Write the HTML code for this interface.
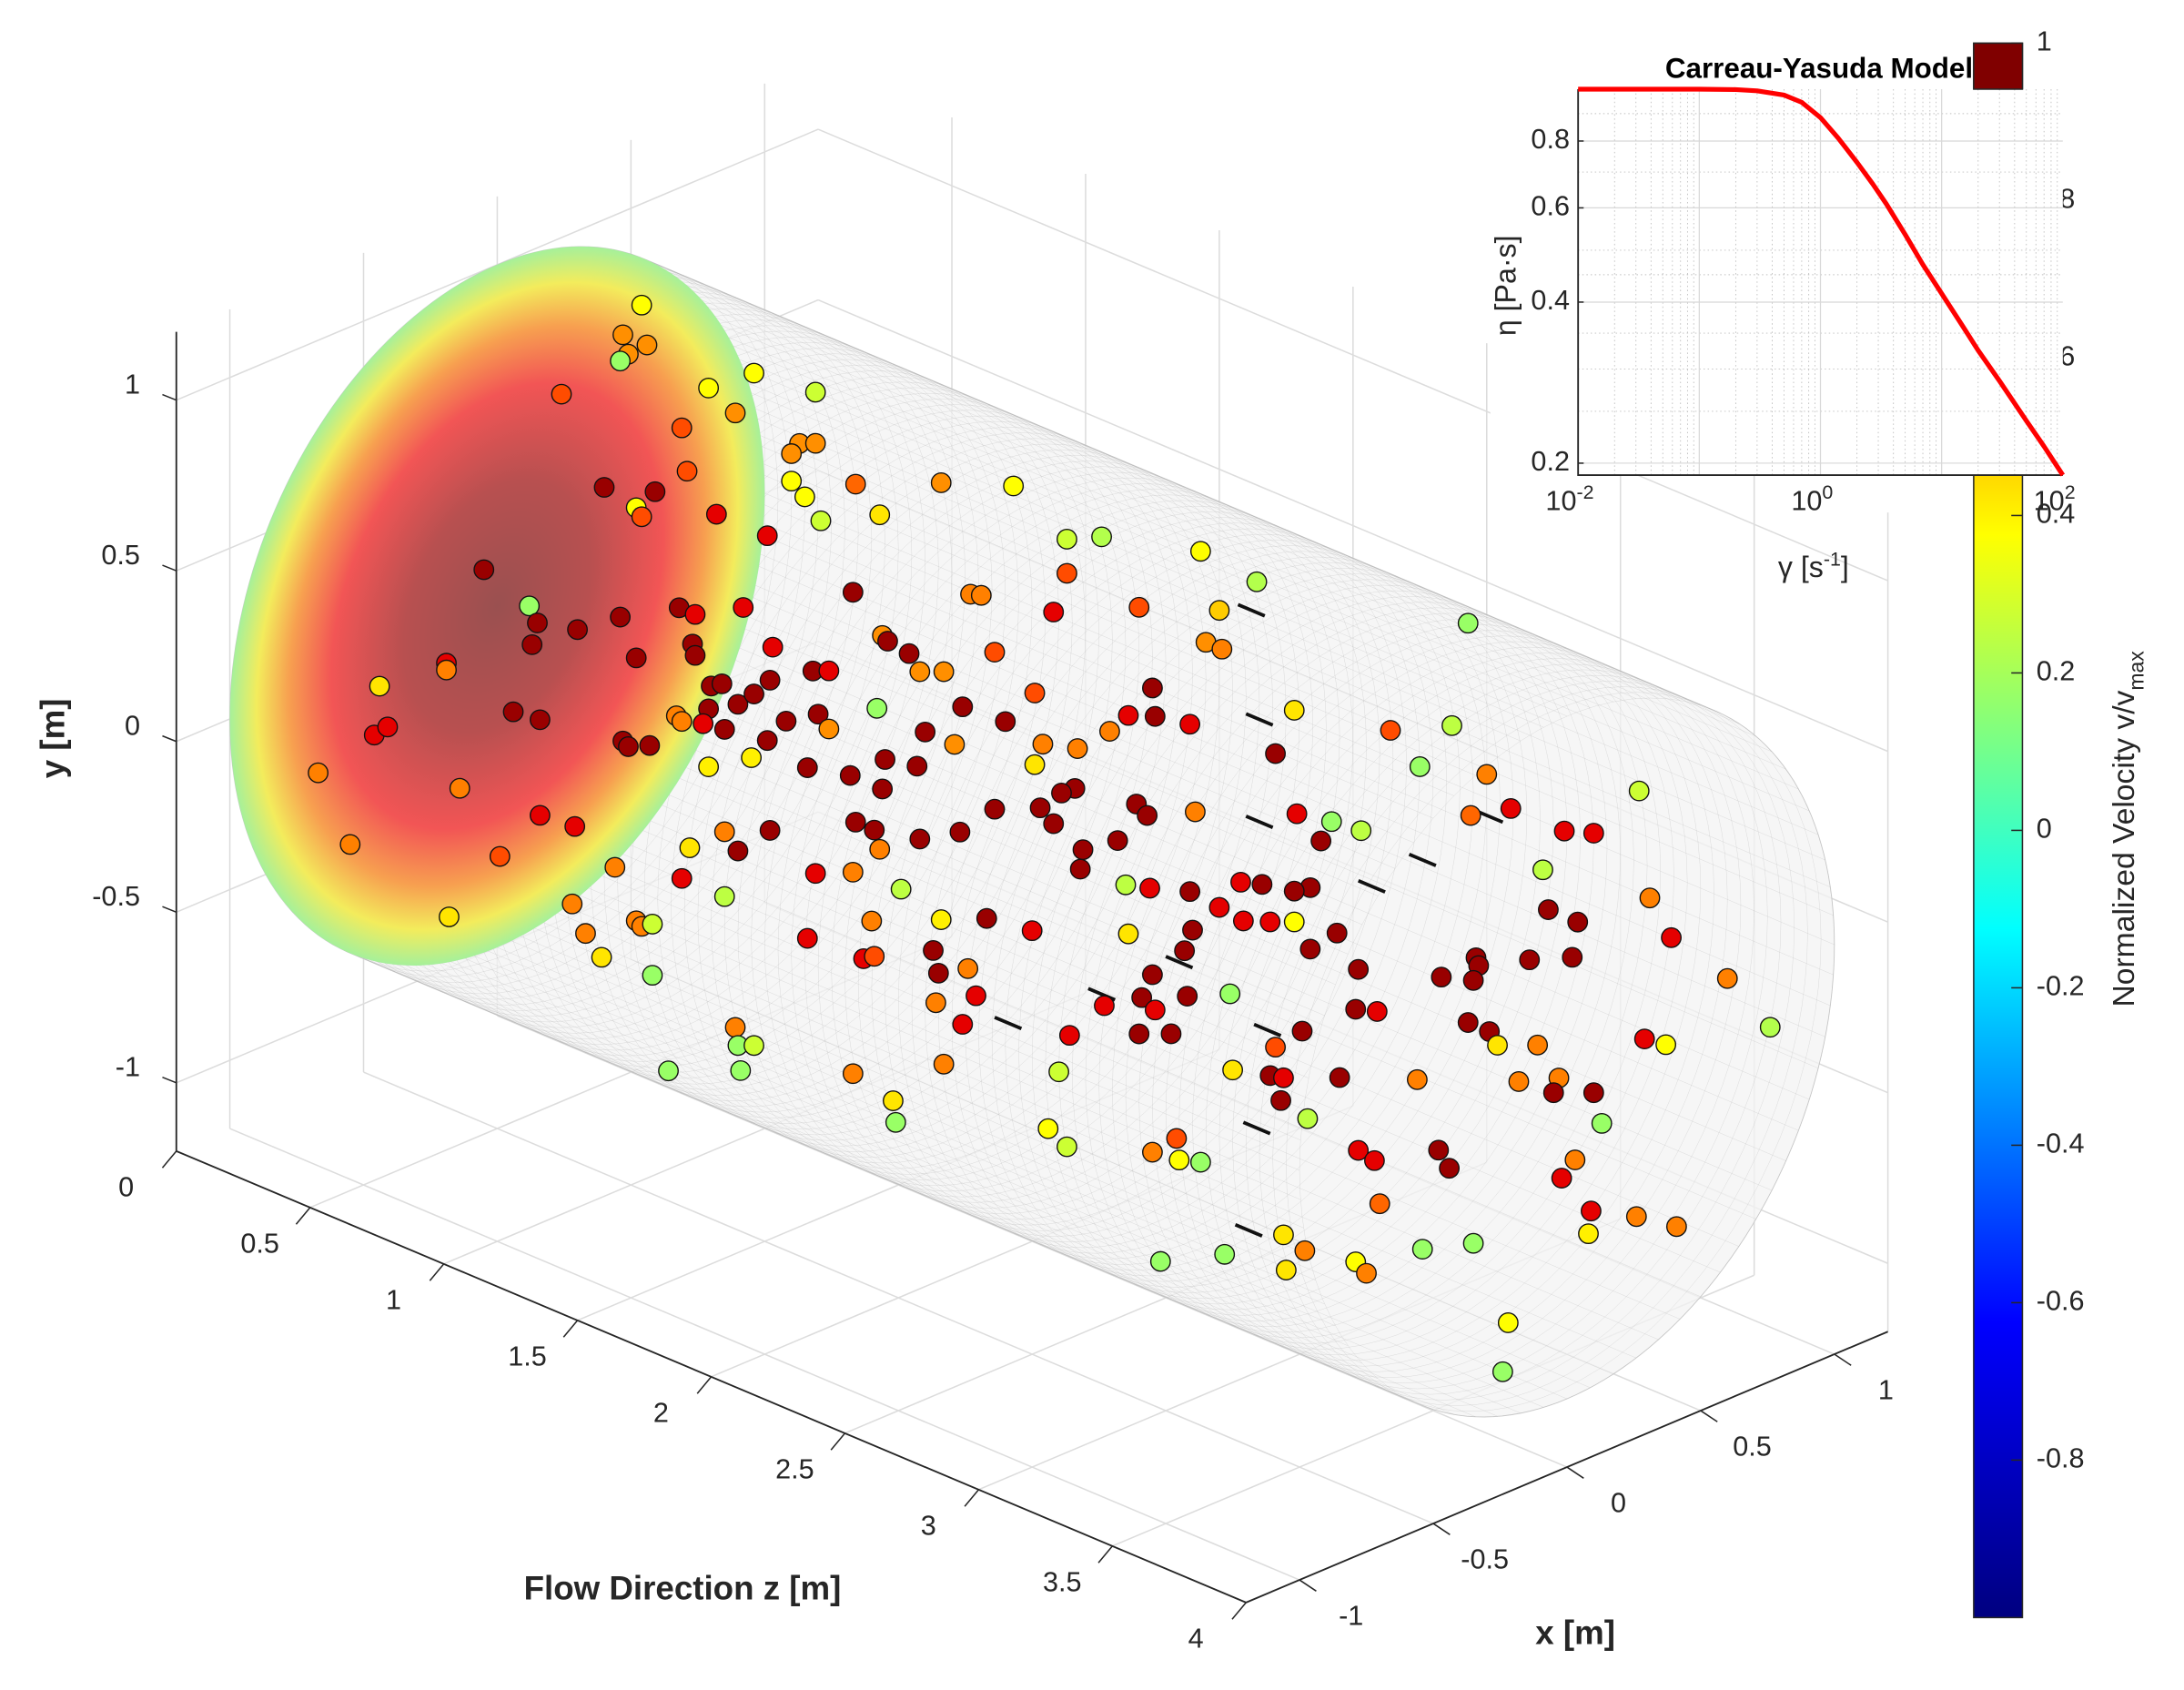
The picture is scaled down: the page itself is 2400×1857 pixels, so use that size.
<!DOCTYPE html>
<html><head><meta charset="utf-8"><style>
html,body{margin:0;padding:0;background:#fff}
svg{display:block}
text{font-family:"Liberation Sans",Arial,sans-serif}
</style></head><body>
<svg id="fig" width="2400" height="1857" viewBox="0 0 1568 1213" preserveAspectRatio="none" xmlns="http://www.w3.org/2000/svg">
<defs>
<radialGradient id="diskGrad" cx="0.5" cy="0.5" r="0.5">
<stop offset="0" stop-color="#9a5050"/>
<stop offset="0.35" stop-color="#b85050"/>
<stop offset="0.62" stop-color="#f25555"/>
<stop offset="0.78" stop-color="#f7a050"/>
<stop offset="0.9" stop-color="#f3ec5c"/>
<stop offset="1" stop-color="#a6f09a"/>
</radialGradient>
<linearGradient id="cbGrad" x1="0" y1="0" x2="0" y2="1">
<stop offset="0" stop-color="#800000"/>
<stop offset="0.0625" stop-color="#ff0000"/>
<stop offset="0.1875" stop-color="#ff8000"/>
<stop offset="0.3125" stop-color="#ffff00"/>
<stop offset="0.4375" stop-color="#80ff80"/>
<stop offset="0.5625" stop-color="#00ffff"/>
<stop offset="0.6875" stop-color="#0080ff"/>
<stop offset="0.8125" stop-color="#0000ff"/>
<stop offset="1" stop-color="#000080"/>
</linearGradient>
</defs>
<g id="grid3d"></g>
<g id="cyl"></g>
<g id="axes3d"></g>
<g id="pts"></g>
<g id="cbar"></g>
<g id="inset"></g>
<text x="0" y="0" transform="translate(46,530) rotate(-90)" text-anchor="middle" font-size="24" font-weight="bold" fill="#262626">y [m]</text>
<text x="490" y="1148" text-anchor="middle" font-size="24" font-weight="bold" fill="#262626">Flow Direction z [m]</text>
<text x="1131" y="1180" text-anchor="middle" font-size="24" font-weight="bold" fill="#262626">x [m]</text>
<text transform="translate(1532,595) rotate(-90)" text-anchor="middle" font-size="22" fill="#262626">Normalized Velocity v/v<tspan font-size="15" dy="7">max</tspan></text>
</svg>
<script>
// ---------- scatter data (x = 0 plane representation; z along flow, y vertical) ----------
const ptZ=[.54,.47,.56,.49,.46,.24,.79,.96,1.19,.89,.69,.71,.40,.59,.52,.54,.82,1.01,-.05,.12,.15,.30,.13,.46,.68,.74,.92,-.19,-.19,-.44,.52,.73,.74,.80,.84,.79,.90,.06,.16,.67,.69,.47,.49,.57,-.46,-.41,-.67,-.14,.16,.29,.01,-.55,-.18,.77,.85,.79,.95,
1.13,1.10,1.19,1.10,1.15,1.21,1.34,1.43,1.66,1.93,2.13,2.26,2.63,2.84,2.13,1.77,1.81,2.08,2.40,2.70,1.33,1.44,1.46,1.54,1.58,1.67,1.86,2.65,2.71,2.45,2.01,2.46,2.36,2.29,1.90,1.74,1.60,1.42,1.20,1.18,1.24,1.03,1.02,.96,1.08,1.24,1.01,1.16,1.32,1.44,1.45,1.57,1.71,2.01,2.04,2.17,2.16,2.11,2.03,2.08,1.86,1.58,1.41,1.34,1.43,1.73,2.19,2.18,2.39,2.43,2.61,2.32,2.59,2.98,2.91,3.34,3.57,3.45,3.70,3.79,3.64,3.12,2.99,3.23,3.08,4.27,3.99,4.10,3.91,3.04,2.98,2.86,2.78,2.70,2.59,2.44,2.35,2.60,2.79,2.89,2.98,3.14,3.04,2.36,2.57,2.45,2.58,2.41,2.74,3.22,3.53,3.66,3.67,3.65,3.86,3.93,4.04,4.02,4.31,4.39,4.60,4.76,2.00,1.83,1.66,1.63,1.65,1.76,1.79,1.64,1.74,2.14,2.27,2.46,2.40,2.52,2.91,3.01,3.21,3.29,3.63,3.71,3.74,3.89,4.29,4.37,2.89,2.94,3.15,2.93,3.03,3.44,3.82,3.97,3.95,4.10,4.13,3.22,3.28,3.52,3.56,4.03,3.98,3.30,4.09,4.26,4.41,4.08,2.75,2.10,1.67,1.33,1.48,1.49,.91,.64,.89,.90,.96,.58,.39,.33,.28,.44,.52,.54,.58,.69,.72,.85,.90,.85,1.02,1.19,1.33,1.51,1.16,1.37,1.41,1.40,
2.06,2.13,2.45,2.54,2.55,2.63,2.48,2.72,2.94,3.02,2.95,3.21,3.25,3.46,3.65,3.78,3.76,3.63];
const ptY=[1.06,.95,.95,.90,.87,.70,.90,1.0,1.02,.86,.75,.63,.48,.53,.46,.44,.54,.54,.09,.04,.00,.03,-.07,.12,.22,.22,.30,-.23,-.25,-.38,.02,.13,.10,.03,.05,-.04,.01,-.29,-.28,-.10,-.11,-.24,-.25,-.22,-.53,-.49,-.71,-.58,-.56,-.55,-.73,-.88,-.97,-.09,-.08,-.21,-.13,
.85,.81,.87,.73,.70,.65,.80,.74,.91,.99,.90,.95,1.03,1.01,.80,.62,.63,.67,.79,.88,.48,.39,.38,.37,.33,.36,.48,.77,.77,.57,.41,.49,.46,.39,.29,.28,.16,.17,.08,.20,.22,.22,.12,.06,.02,.05,-.06,-.09,-.06,-.06,.03,.05,.16,.20,.27,.30,.18,.15,.08,.05,.02,-.16,-.19,-.19,-.24,-.09,.01,-.05,.21,.19,.26,.08,.51,.68,.53,.74,.83,.67,.73,.66,.59,.40,.38,.41,.33,.87,.66,.69,.52,.18,.15,.13,.11,.01,.02,-.02,-.04,-.09,0,.03,.06,.08,0,-.18,-.16,-.27,-.29,-.35,-.23,0,.08,.18,.16,.11,.24,.41,.41,.30,.57,.48,.43,.34,-.29,-.31,-.37,-.47,-.53,-.48,-.55,-.62,-.65,-.55,-.42,-.37,-.46,-.42,-.33,-.25,-.12,-.10,-.02,-.02,-.05,0,.15,.16,-.42,-.41,-.34,-.48,-.50,-.25,-.13,-.07,-.12,-.07,-.15,-.53,-.54,-.43,-.47,-.29,-.36,-.66,-.42,-.38,-.36,-.49,-.45,-.67,-.79,-.93,-.96,-1.02,-1.06,-1.15,-.94,-.99,-.97,-.89,-.90,-.85,-.78,-.62,-.75,-.76,-.74,-.57,-.47,-.38,-.42,-.57,-.32,-.39,-.34,-.33,-.59,-.58,-.56,-.46,
-.85,-.88,-.79,-.72,-.78,-.76,-1.10,-1.00,-.87,-.89,-.97,-.86,-.88,-.74,-.66,-.85,-1.00,1.15];
const ptV=[.25,.47,.47,.47,.05,.6,.25,.25,.15,.47,.6,.6,.95,.95,.25,.6,.8,.8,.95,.05,.95,.95,.95,.95,.95,.8,.8,.8,.5,.3,.95,.95,.95,.95,.95,.95,.95,.95,.95,.5,.5,.95,.95,.95,.8,.8,.5,.5,.8,.8,.6,.5,.3,.8,.95,.28,.28,
.47,.47,.47,.25,.25,.15,.55,.3,.47,.25,.15,.1,.25,.1,.6,.5,.5,.8,.6,.35,.95,.47,.95,.95,.47,.47,.6,.47,.5,.95,.6,.95,.8,.5,.95,.95,.95,.05,.95,.95,.8,.8,.95,.95,.95,.47,.95,.95,.95,.95,.95,.95,.47,.3,.5,.5,.95,.95,.95,.95,.95,.95,.95,.95,.5,.95,.95,.95,.95,.95,.5,.95,.8,.3,.95,.6,.12,.05,.5,.8,.55,.05,.8,.12,.95,.15,.8,.8,.12,.95,.95,.95,.8,.8,.95,.8,.12,.95,.8,.8,.25,.95,.95,.3,.95,.95,.95,.95,.05,.95,.95,.95,.95,.95,.95,.95,.95,.95,.5,.8,.5,.1,.8,.95,.28,.95,.95,.5,.8,.5,.8,.8,.8,.8,.95,.95,.6,.95,.95,.8,.95,.95,.3,.5,.8,.25,.95,.8,.95,.95,.12,.5,.5,.5,.95,.95,.05,.8,.8,.95,.95,.5,.8,.55,.8,.5,.5,.28,.3,.15,.5,.5,.3,.05,.05,.05,.5,.05,.15,.05,.3,.5,.5,.5,.5,.5,.15,.8,.3,.5,.95,.12,.95,.8,.5,.12,.8,.8,.6,.5,
.25,.15,.5,.6,.25,.05,.05,.05,.3,.5,.3,.25,.5,.05,.05,.25,.05,.05];
// streamline fragments
const dashZ=[2.82,2.85,2.85,3.27,3.46,2.26,2.88,2.84,2.55,2.81,1.91,3.71];
const dashY=[.92,.61,.31,.26,.40,-.39,-.29,-.59,-.20,-.90,-.59,.61];
// tick labels
const yTicks=[-1,-0.5,0,0.5,1];
const zTicks=[0,0.5,1,1.5,2,2.5,3,3.5,4];
const xTicks=[-1,-0.5,0,0.5,1];
const cbTicks=[-0.8,-0.6,-0.4,-0.2,0,0.2,0.4,0.6,0.8,1];
// inset (Carreau-Yasuda) data
const gammaVals=[0.01,0.1,0.2,0.3,0.5,0.7,1,1.4,2,2.7,3.5,5,7,10,15,20,30,50,70,100];
const etaVals=[1.0,1.0,0.998,0.993,0.975,0.945,0.885,0.81,0.73,0.665,0.61,0.535,0.47,0.415,0.36,0.325,0.285,0.24,0.215,0.19];
const etaTicks=[0.2,0.4,0.6,0.8];
const gammaTicks=[-2,0,2];

const NS="http://www.w3.org/2000/svg";
function mk(tag,attrs,parent){const e=document.createElementNS(NS,tag);for(const k in attrs)e.setAttribute(k,attrs[k]);parent.appendChild(e);return e;}
function P(x,y,z){return [357+192*x+192*z, 435-81*x-245*y+81*z];}
function jet(v){const p=(v+1)/2;const c=t=>Math.max(0,Math.min(1,t));
 const r=c(Math.min(4*p-1.5,-4*p+4.5)),g=c(Math.min(4*p-0.5,-4*p+3.5)),b=c(Math.min(4*p+0.5,-4*p+2.5));
 return `rgb(${Math.round(r*255)},${Math.round(g*255)},${Math.round(b*255)})`;}
const X0=-1.2,X1=1.2,Y0=-1.2,Y1=1.2,Z0=0,Z1=4;
function line(g,a,b,st,w,name){const l=mk('line',{x1:a[0],y1:a[1],x2:b[0],y2:b[1],stroke:st,'stroke-width':w},g);return l;}

const G=document.getElementById('grid3d');
const gc='#dcdcdc';
yTicks.forEach(t=>{line(G,P(X0,t,0),P(X1,t,0),gc,1,'grid-line');line(G,P(X1,t,Z0),P(X1,t,Z1),gc,1,'grid-line');});
xTicks.forEach(t=>{line(G,P(t,Y0,0),P(t,Y1,0),gc,1,'grid-line');line(G,P(t,Y0,Z0),P(t,Y0,Z1),gc,1,'grid-line');});
zTicks.slice(1).forEach(t=>{line(G,P(X1,Y0,t),P(X1,Y1,t),gc,1,'grid-line');line(G,P(X0,Y0,t),P(X1,Y0,t),gc,1,'grid-line');});

const C=document.getElementById('cyl');
function ell(z,n){const a=[];for(let i=0;i<n;i++){const t=2*Math.PI*i/n;a.push(P(Math.cos(t),Math.sin(t),z));}return a;}
let all=ell(0,180).concat(ell(4,180));
all.sort((a,b)=>a[0]-b[0]||a[1]-b[1]);
function cross(o,a,b){return (a[0]-o[0])*(b[1]-o[1])-(a[1]-o[1])*(b[0]-o[0]);}
const lo=[],up=[];
for(const p of all){while(lo.length>=2&&cross(lo[lo.length-2],lo[lo.length-1],p)<=0)lo.pop();lo.push(p);}
for(let i=all.length-1;i>=0;i--){const p=all[i];while(up.length>=2&&cross(up[up.length-2],up[up.length-1],p)<=0)up.pop();up.push(p);}
const hull=lo.slice(0,-1).concat(up.slice(0,-1));
const hp=mk('polygon',{points:hull.map(p=>p.join(',')).join(' '),fill:'#f3f3f3','fill-opacity':0.75,stroke:'#cfcfcf','stroke-width':0.6},C);

let d='';
for(let k=0;k<=80;k++){const z=4*k/80;const e=ell(z,90);d+='M'+e.map(p=>p[0].toFixed(1)+','+p[1].toFixed(1)).join('L')+'Z';}
for(let i=0;i<72;i++){const t=2*Math.PI*i/72;const a=P(Math.cos(t),Math.sin(t),0),b=P(Math.cos(t),Math.sin(t),4);d+=`M${a[0].toFixed(1)},${a[1].toFixed(1)}L${b[0].toFixed(1)},${b[1].toFixed(1)}`;}
const mesh=mk('path',{d:d,fill:'none',stroke:'#a0a0a0','stroke-width':0.3,'stroke-opacity':0.35},C);

const disk=mk('circle',{cx:0,cy:0,r:1,fill:'url(#diskGrad)',transform:'matrix(192,-81,0,-245,357,435)'},C);


const A=document.getElementById('axes3d');
line(A,P(X0,Y0,0),P(X0,Y1,0),'#262626',1.2,'y-axis-line');
line(A,P(X0,Y0,Z0),P(X0,Y0,Z1),'#262626',1.2,'z-axis-line');
line(A,P(X0,Y0,Z1),P(X1,Y0,Z1),'#262626',1.2,'x-axis-line');
function lab(x,y,s,anchor,name){const t=mk('text',{x:x,y:y,'text-anchor':anchor,'font-size':20,fill:'#262626','dominant-baseline':'middle'},A);t.textContent=s;}
yTicks.forEach(t=>{const p=P(X0,t,0);line(A,p,[p[0]-10,p[1]-4],'#262626',1,'y-tick');lab(p[0]-26,p[1]-10,String(t),'end','y-tick-label');});
zTicks.forEach(t=>{const p=P(X0,Y0,t);line(A,p,[p[0]-10,p[1]+12],'#262626',1,'z-tick');lab(p[0]-36,p[1]+27,String(t),'middle','z-tick-label');});
xTicks.forEach(t=>{const p=P(t,Y0,Z1);line(A,p,[p[0]+12,p[1]+8],'#262626',1,'x-tick');lab(p[0]+37,p[1]+27,String(t),'middle','x-tick-label');});

const PT=document.getElementById('pts');
for(let i=0;i<dashZ.length;i++){const a=P(0,dashY[i],dashZ[i]-0.05),b=P(0,dashY[i],dashZ[i]+0.05);
 const l=mk('line',{x1:a[0],y1:a[1],x2:b[0],y2:b[1],stroke:'#111','stroke-width':2.5},PT);
 
 }
for(let i=0;i<ptZ.length;i++){const p=P(0,ptY[i],ptZ[i]);
 const c=mk('circle',{cx:p[0].toFixed(1),cy:p[1].toFixed(1),r:7,fill:jet(ptV[i]),stroke:'#111','stroke-width':0.9},PT);
 
 }

const CB=document.getElementById('cbar');
const cbY=v=>596-565*v;
const cbr=mk('rect',{x:1417,y:cbY(1),width:35,height:cbY(-1)-cbY(1),fill:'url(#cbGrad)',stroke:'#262626','stroke-width':1},CB);

cbTicks.forEach(v=>{const y=cbY(v);line(CB,[1444,y],[1452,y],'#262626',1,'colorbar-tick');
 const t=mk('text',{x:1462,y:y,'font-size':20,fill:'#262626','dominant-baseline':'middle'},CB);t.textContent=String(v);
 });

const I=document.getElementById('inset');
const ix0=1133,ix1=1481,iy0=64,iy1=341,lmin=Math.log10(0.19);
const gx=g=>ix0+(Math.log10(g)+2)/4*(ix1-ix0);
const ey=e=>iy0+(Math.log10(e))/lmin*(iy1-iy0);
const bg=mk('rect',{x:1070,y:iy0,width:ix1-1070,height:iy1-iy0,fill:'#fff'},I);

for(let dec=-2;dec<2;dec++)for(let m=2;m<10;m++){const x=gx(m*Math.pow(10,dec));line(I,[x,iy0],[x,iy1],'#c0c0c0',0.6,'inset-minor-grid').setAttribute('stroke-dasharray','1,2');}
[0.25,0.3,0.35,0.45,0.5,0.7,0.9].forEach(e=>{const y=ey(e);line(I,[ix0,y],[ix1,y],'#c0c0c0',0.6,'inset-minor-grid').setAttribute('stroke-dasharray','1,2');});
[-1,0,1].forEach(dec=>{const x=gx(Math.pow(10,dec));line(I,[x,iy0],[x,iy1],'#d8d8d8',0.8,'inset-grid');});
etaTicks.forEach(e=>{const y=ey(e);line(I,[ix0,y],[ix1,y],'#d8d8d8',0.8,'inset-grid');line(I,[ix0,y],[ix0+4,y],'#262626',1,'inset-y-tick');
 const t=mk('text',{x:ix0-6,y:y,'text-anchor':'end','font-size':20,fill:'#262626','dominant-baseline':'middle'},I);t.textContent=String(e);
 });
const fr=mk('path',{d:`M${ix0},${iy0}V${iy1}H${ix1}`,fill:'none',stroke:'#262626','stroke-width':1.2},I);

gammaTicks.forEach(dec=>{const x=gx(Math.pow(10,dec));
 const t=mk('text',{x:x-6,y:iy1+25,'text-anchor':'middle','font-size':20,fill:'#262626'},I);
 t.textContent='10';const s=mk('tspan',{dy:-8,'font-size':14},t);s.textContent=String(dec);
 });
const curve=mk('polyline',{points:gammaVals.map((g,i)=>gx(g).toFixed(1)+','+ey(etaVals[i]).toFixed(1)).join(' '),fill:'none',stroke:'#ff0000','stroke-width':3.4,'stroke-linejoin':'round'},I);

const tt=mk('text',{x:1306,y:56,'text-anchor':'middle','font-size':20.5,'font-weight':'bold',fill:'#000'},I);tt.textContent='Carreau-Yasuda Model';

const sq=mk('rect',{x:1417,y:31,width:35,height:33,fill:'#800000',stroke:'#262626','stroke-width':1},I);

const xl=mk('text',{x:1302,y:414,'text-anchor':'middle','font-size':21,fill:'#262626'},I);xl.textContent='γ [s';
const xs=mk('tspan',{dy:-8,'font-size':14},xl);xs.textContent='-1';const xe=mk('tspan',{dy:8},xl);xe.textContent=']';

const yl=mk('text',{transform:'translate(1088,205) rotate(-90)','text-anchor':'middle','font-size':21,fill:'#262626'},I);yl.textContent='η [Pa·s]';

</script>
</body></html>
